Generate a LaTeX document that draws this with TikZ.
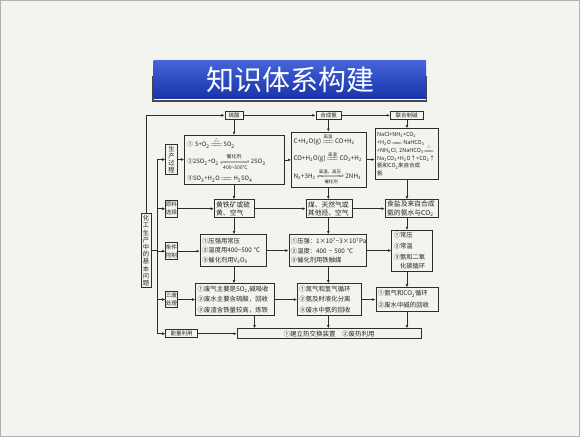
\documentclass[tikz,border=0pt]{standalone}
\usepackage{amsmath}
\usepackage{mathtools}
\usepackage{fontspec}
\setmainfont{Noto Sans CJK SC}
\usetikzlibrary{arrows.meta}
\definecolor{bgc}{RGB}{243,243,240}
\definecolor{lnc}{RGB}{45,45,45}
\definecolor{btop}{RGB}{72,102,215}
\definecolor{bmid}{RGB}{45,75,195}
\definecolor{bbot}{RGB}{28,52,168}
\newcommand{\sbs}[1]{\textsubscript{#1}}
\newcommand{\sps}[1]{\textsuperscript{#1}}
\newcommand{\eqq}{\ensuremath{=\!\!=\!\!=}}
\newcommand{\eqc}[1]{\ensuremath{\overset{\text{\raisebox{0.8pt}{#1}}}{=\!\!=\!\!=}}}
\newcommand{\eqlr}[2]{\ensuremath{\xrightleftharpoons[\text{\raisebox{-0.8pt}{#2}}]{\text{\raisebox{0.8pt}{#1}}}}}
\begin{document}
\begin{tikzpicture}[x=1pt,y=-1pt,
 bx/.style={draw=lnc,line width=0.75pt,inner sep=0pt,anchor=north west,align=center,text=black!85},
 wire/.style={draw=lnc,line width=0.7pt},
 arr/.style={wire,-{Latex[length=3.2pt,width=2.8pt]}},
 fa/.style={font=\fontsize{6.3}{7.2}\selectfont},
 fb/.style={font=\fontsize{5.6}{8}\selectfont},
 fc/.style={font=\fontsize{5.5}{6}\selectfont}]
\fill[bgc] (0,0) rectangle (580,437);
\draw[gray!60,line width=0.6pt] (0.5,0.5) rectangle (579.5,436.5);
% banner
\fill[gray!55!black] (151.6,76) rectangle (427.4,102);
\shade[top color=btop, bottom color=bbot, middle color=bmid] (153.5,60) rectangle (426,98.5);
\draw[white,line width=0.6pt] (153.5,99.2) -- (426,99.2);
\node[text=white,font=\fontsize{28}{30}\selectfont,inner sep=0pt] (title) at (290,79.5) {知识体系构建};
% left
\node[bx,fa,minimum width=10pt,minimum height=74pt,text width=8pt] (L) at (140.6,213.3) {化\\工\\生\\产\\中\\的\\基\\本\\问\\题};
\node[bx,fa,minimum width=11.4pt,minimum height=30.3pt,text width=11pt] (P1) at (165.4,144) {生\\产\\过\\程};
\node[bx,fb,minimum width=11.4pt,minimum height=16.7pt,text width=11.2pt] (P2) at (165.4,200) {原料\\选择};
\node[bx,fb,minimum width=11.4pt,minimum height=17pt,text width=11.2pt] (P3) at (165.4,242.3) {条件\\控制};
\node[bx,fb,minimum width=11.4pt,minimum height=16.3pt,text width=11.2pt] (P4) at (165.4,291) {三废\\处理};
\node[bx,fc,minimum width=31.8pt,minimum height=8pt] (P5) at (165.4,329.3) {能量利用};
% top
\node[bx,fc,minimum width=18.4pt,minimum height=8pt] (S1) at (224.6,111) {硫酸};
\node[bx,fc,minimum width=25.4pt,minimum height=8pt] (S2) at (315.6,111) {合成氨};
\node[bx,fc,minimum width=32.5pt,minimum height=8pt] (S3) at (390,111) {联合制碱};
% reactions
\node[bx,align=left,inner xsep=2.5pt,text width=94.6pt,minimum height=49pt,font=\fontsize{6}{17}\selectfont] (R1) at (184.2,135)
 {① S+O\sbs{2}\,\eqc{△}\,SO\sbs{2}\\②2SO\sbs{2}+O\sbs{2}\,\eqlr{催化剂}{400\textasciitilde500℃}\,2SO\sbs{3}\\③SO\sbs{3}+H\sbs{2}O\,\eqq\,H\sbs{2}SO\sbs{4}};
\node[bx,align=left,inner xsep=2pt,text width=71.1pt,minimum height=55pt,font=\fontsize{6.3}{17.5}\selectfont] (R2) at (291.2,131.7)
 {C+H\sbs{2}O(g)\,\eqc{高温}\,CO+H\sbs{2}\\CO+H\sbs{2}O(g)\,\eqc{高温}\,CO\sbs{2}+H\sbs{2}\\N\sbs{2}+3H\sbs{2}\,\eqlr{高温、高压}{催化剂}\,2NH\sbs{3}};
\node[bx,align=left,inner xsep=2pt,text width=59.6pt,minimum height=51pt,font=\fontsize{5.5}{7.9}\selectfont] (R3) at (374.8,128.3)
 {NaCl+NH\sbs{3}+CO\sbs{2}\\+H\sbs{2}O\,\eqq\,NaHCO\sbs{3}\\+NH\sbs{4}Cl, 2NaHCO\sbs{3}\smash{\eqc{△}}\\Na\sbs{2}CO\sbs{3}+H\sbs{2}O↑+CO\sbs{2}↑\\氨和CO\sbs{2}来自合成\\氨};
% raw materials
\node[bx,align=left,inner xsep=2pt,text width=36.4pt,minimum height=18pt,font=\fontsize{6.8}{8.2}\selectfont] (F1) at (213.8,199.3) {黄铁矿或硫\\黄、空气};
\node[bx,align=left,inner xsep=2pt,text width=42.6pt,minimum height=18pt,font=\fontsize{6.8}{8.2}\selectfont] (F2) at (305.6,199.3) {煤、天然气或\\其他烃、空气};
\node[bx,align=left,inner xsep=2pt,text width=49.6pt,minimum height=18pt,font=\fontsize{6.8}{8.2}\selectfont] (F3) at (384.8,199.3) {食盐及来自合成\\氨的氨水与CO\sbs{2}};
% conditions
\node[bx,align=left,inner xsep=2pt,text width=62.2pt,minimum height=31.7pt,font=\fontsize{6.3}{9.5}\selectfont] (K1) at (199.8,234.3)
 {①压强用常压\\②温度用400\textasciitilde500 ℃\\③催化剂用V\sbs{2}O\sbs{5}};
\node[bx,align=left,inner xsep=2pt,text width=72.9pt,minimum height=31.7pt,font=\fontsize{6.3}{9.5}\selectfont] (K2) at (288.6,234.3)
 {①压强：1×10\sps{7}\textasciitilde3×10\sps{7}Pa\\②温度：400 \textasciitilde{} 500 ℃\\③催化剂用铁触媒};
\node[bx,align=left,inner xsep=2pt,text width=36.3pt,minimum height=40.7pt,font=\fontsize{6.3}{11}\selectfont] (K3) at (391.4,230)
 {①常压\\②常温\\③氨和二氧\\[-2.6pt]\hspace*{6.3pt}化碳循环};
% waste
\node[bx,align=left,inner xsep=2pt,text width=74.5pt,minimum height=31.7pt,font=\fontsize{6.4}{10.5}\selectfont] (T1) at (195.3,283.3)
 {①废气主要是SO\sbs{2},碱吸收\\②废水主要含硫酸，回收\\③废渣含铁量较高，炼铁};
\node[bx,align=left,inner xsep=2pt,text width=59.7pt,minimum height=31.7pt,font=\fontsize{6.4}{10.5}\selectfont] (T2) at (297,283.3)
 {①氮气和氢气循环\\②氨及时液化分离\\③废水中氨的回收};
\node[bx,align=left,inner xsep=2pt,text width=58.2pt,minimum height=23.7pt,font=\fontsize{6.4}{12}\selectfont] (T3) at (375.5,287.3)
 {①氨气和CO\sbs{2}循环\\②废水中碱的回收};
% energy
\node[bx,minimum width=183.8pt,minimum height=10pt,font=\fontsize{6.5}{7}\selectfont] (E) at (236.8,328.3) {①建立热交换装置\quad ②废热利用};
% coordinates
\coordinate (vl) at (157.2,0);
\coordinate (c1) at (234,0);
\coordinate (c2) at (328.3,0);
\coordinate (c3) at (407,0);
\coordinate (e1) at (254.5,0);
% connectors
\draw[arr] (L.north) |- (S1.west);
\draw[arr] (S1.east) -- (S2.west);
\draw[arr] (S2.east) -- (S3.west);
\draw[wire] (L.east) -- (L.east -| vl);
\draw[wire] (P1.west -| vl) -- (P5.west -| vl);
\foreach \p in {P1,P2,P3,P4,P5} \draw[arr] (\p.west -| vl) -- (\p.west);
\draw[arr] (P1.east) -- (P1.east -| R1.west);
\draw[arr] (R1.east) -- (R1.east -| R2.west);
\draw[arr] (R2.east) -- (R2.east -| R3.west);
\draw[arr] (P2.east) -- (P2.east -| F1.west);
\draw[arr] (F1.east) -- (F1.east -| F2.west);
\draw[arr] (F2.east) -- (F2.east -| F3.west);
\draw[arr] (P3.east) -- (P3.east -| K1.west);
\draw[arr] (K1.east) -- (K1.east -| K2.west);
\draw[arr] (K2.east) -- (K2.east -| K3.west);
\draw[arr] (P4.east) -- (P4.east -| T1.west);
\draw[arr] (T1.east) -- (T1.east -| T2.west);
\draw[arr] (T2.east) -- (T2.east -| T3.west);
\draw[arr] (P5.east) -- (P5.east -| E.west);
\foreach \a/\b/\c in {S1/R1/c1,R1/F1/c1,F1/K1/c1,K1/T1/c1,T1/E/e1,S2/R2/c2,R2/F2/c2,F2/K2/c2,K2/T2/c2,T2/E/c2,S3/R3/c3,R3/F3/c3,F3/K3/c3,K3/T3/c3,T3/E/c3}
  \draw[arr] (\a.south -| \c) -- (\b.north -| \c);
\end{tikzpicture}
\end{document}
